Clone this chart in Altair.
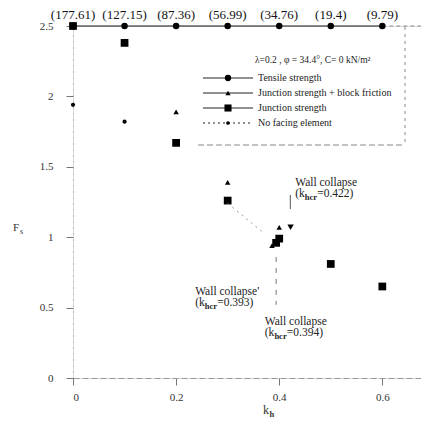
import altair as alt
import pandas as pd

# ---------------- data ----------------
kh_tensile = [0.0, 0.1, 0.2, 0.3, 0.4, 0.5, 0.6]
fs_tensile = [2.5, 2.5, 2.5, 2.5, 2.5, 2.5, 2.5]
tensile_values = ["(177.61)", "(127.15)", "(87.36)", "(56.99)", "(34.76)", "(19.4)", "(9.79)"]

kh_junction = [0.0, 0.1, 0.2, 0.3, 0.394, 0.4, 0.5, 0.6]
fs_junction = [2.5, 2.38, 1.67, 1.26, 0.96, 0.99, 0.81, 0.65]

kh_friction = [0.2, 0.3, 0.386, 0.4]
fs_friction = [1.89, 1.39, 0.94, 1.07]
kh_friction_collapse = [0.422]
fs_friction_collapse = [1.07]

kh_nofacing = [0.0, 0.1]
fs_nofacing = [1.94, 1.82]

ann_kh = [0.431, 0.237, 0.372]
ann_fs = [1.385, 0.611, 0.398]
ann_line1 = ["Wall collapse", "Wall collapse'", "Wall collapse"]
ann_value = ["=0.422)", "=0.393)", "=0.394)"]

legend_title = "\u03bb=0.2 , \u03c6 = 34.4\u00b0, C= 0 kN/m\u00b2"
legend_labels = ["Tensile strength", "Junction strength + block friction",
                 "Junction strength", "No facing element"]
legend_shapes = ["circle", "triangle-up", "square", "circle"]

x_ticks = [0, 0.2, 0.4, 0.6]
y_ticks = [0, 0.5, 1, 1.5, 2, 2.5]

# ---------------- layout ----------------
W, H = 348, 352
FONT = "Liberation Serif"
XDOM = [0, 0.675]
YDOM = [0, 2.5]

def X(field="kh"):
    return alt.X(f"{field}:Q", scale=alt.Scale(domain=XDOM, nice=False, zero=False),
                 axis=alt.Axis(values=x_ticks, format="~g", title=None, grid=False,
                               tickSize=7, tickColor="#777", domainColor="#999",
                               domainDash=[6, 3], labelFont=FONT, labelFontSize=11,
                               labelColor="#333", labelPadding=6))

def Y(field="fs"):
    return alt.Y(f"{field}:Q", scale=alt.Scale(domain=YDOM, nice=False, zero=False),
                 axis=alt.Axis(values=y_ticks, format="~g", title=None, grid=False,
                               tickSize=7, tickColor="#777", domainColor="#999",
                               domainDash=[1, 5], labelFont=FONT, labelFontSize=11,
                               labelColor="#333", labelPadding=13))

tensile = pd.DataFrame({"kh": kh_tensile, "fs": fs_tensile, "lab": tensile_values})
junction = pd.DataFrame({"kh": kh_junction, "fs": fs_junction})
friction = pd.DataFrame({"kh": kh_friction, "fs": fs_friction})
fcollapse = pd.DataFrame({"kh": kh_friction_collapse, "fs": fs_friction_collapse})
nofacing = pd.DataFrame({"kh": kh_nofacing, "fs": fs_nofacing})
ann = pd.DataFrame({"kh": ann_kh, "fs": ann_fs, "l1": ann_line1, "v": ann_value})

layers = []

# tensile line across top + dashed continuation
layers.append(alt.Chart(tensile).mark_line(color="#111", strokeWidth=1).encode(x=X(), y=Y()))
layers.append(alt.Chart(pd.DataFrame({"kh": [0.6], "fs": [2.5]})).mark_rule(
    color="#888", strokeDash=[4, 3], strokeWidth=1).encode(x=X(), x2=alt.value(W), y=Y()))
layers.append(alt.Chart(tensile).mark_point(shape="circle", filled=True, size=42, color="#000",
                                            opacity=1).encode(x=X(), y=Y()))
layers.append(alt.Chart(tensile).mark_text(font=FONT, fontSize=13, dy=-11, color="#111").encode(
    x=X(), y=Y(), text="lab:N"))

# junction strength squares
layers.append(alt.Chart(junction).mark_point(shape="square", filled=True, size=60, color="#000",
                                             opacity=1).encode(x=X(), y=Y()))
# junction + friction triangles
layers.append(alt.Chart(friction).mark_point(shape="triangle-up", filled=True, size=30, color="#000",
                                             opacity=1).encode(x=X(), y=Y()))
layers.append(alt.Chart(fcollapse).mark_point(shape="triangle-down", filled=True, size=40, color="#000",
                                              opacity=1).encode(x=X(), y=Y()))
# no facing element dots
layers.append(alt.Chart(nofacing).mark_point(shape="circle", filled=True, size=18, color="#000",
                                             opacity=1).encode(x=X(), y=Y()))

# collapse pointers
layers.append(alt.Chart(pd.DataFrame({"kh": [0.4215], "fs": [1.30], "fs2": [1.20]})).mark_rule(
    color="#555", strokeWidth=1).encode(x=X(), y=Y(), y2="fs2:Q"))
layers.append(alt.Chart(pd.DataFrame({"kh": [0.394], "fs": [0.86], "fs2": [0.52]})).mark_rule(
    color="#777", strokeWidth=1, strokeDash=[5, 6]).encode(x=X(), y=Y(), y2="fs2:Q"))
layers.append(alt.Chart(pd.DataFrame({"kh": [0.30, 0.37], "fs": [1.24, 1.03]})).mark_line(
    color="#999", strokeWidth=1, strokeDash=[2, 4]).encode(x=X(), y=Y()))

# annotations
layers.append(alt.Chart(ann).mark_text(font=FONT, fontSize=11.5, align="left", baseline="middle",
                                       color="#222").encode(x=X(), y=Y(), text="l1:N"))
layers.append(alt.Chart(ann).mark_text(font=FONT, fontSize=11.5, align="left", baseline="middle",
                                       dy=11, color="#222").encode(x=X(), y=Y(), text=alt.value("(k")))
layers.append(alt.Chart(ann).mark_text(font=FONT, fontSize=8.5, fontWeight="bold", align="left",
                                       baseline="middle", dx=9.6, dy=14, color="#222").encode(
    x=X(), y=Y(), text=alt.value("hcr")))
layers.append(alt.Chart(ann).mark_text(font=FONT, fontSize=11.5, align="left", baseline="middle",
                                       dx=22, dy=11, color="#222").encode(x=X(), y=Y(), text="v:N"))

# legend (drawn by hand, pixel layout): only bottom and right edges visible
one = pd.DataFrame({"a": [0]})
layers.append(alt.Chart(one).mark_rule(color="#888", strokeWidth=1, strokeDash=[6, 3]).encode(
    x=alt.value(125), x2=alt.value(332), y=alt.value(119)))
layers.append(alt.Chart(one).mark_rule(color="#888", strokeWidth=1, strokeDash=[3, 4]).encode(
    x=alt.value(332), y=alt.value(1), y2=alt.value(119)))
layers.append(alt.Chart(one).mark_text(font=FONT, fontSize=9.5, align="left", baseline="middle",
                                       color="#222").encode(
    x=alt.value(182), y=alt.value(34), text=alt.value(legend_title)))
leg_y = [52, 67, 82, 97]
leg_dash = [[1, 0], [1, 0], [1, 0], [2, 3]]
leg_size = [40, 28, 50, 14]
for i in range(4):
    layers.append(alt.Chart(one).mark_rule(color="#222", strokeWidth=1, strokeDash=leg_dash[i]).encode(
        x=alt.value(130), x2=alt.value(180), y=alt.value(leg_y[i])))
    layers.append(alt.Chart(one).mark_point(shape=legend_shapes[i], filled=True, size=leg_size[i],
                                            color="#000", opacity=1).encode(
        x=alt.value(155), y=alt.value(leg_y[i])))
    layers.append(alt.Chart(one).mark_text(font=FONT, fontSize=10, align="left", baseline="middle",
                                           color="#222").encode(
        x=alt.value(185), y=alt.value(leg_y[i]), text=alt.value(legend_labels[i])))

# axis titles
layers.append(alt.Chart(one).mark_text(font=FONT, fontSize=11, align="left", baseline="middle",
                                       color="#333").encode(x=alt.value(-60), y=alt.value(202),
                                                            text=alt.value("F")))
layers.append(alt.Chart(one).mark_text(font=FONT, fontSize=8, align="left", baseline="middle",
                                       color="#333").encode(x=alt.value(-53), y=alt.value(206),
                                                            text=alt.value("s")))
layers.append(alt.Chart(one).mark_text(font=FONT, fontSize=12, align="left", baseline="middle",
                                       color="#333").encode(x=alt.value(190), y=alt.value(384),
                                                            text=alt.value("k")))
layers.append(alt.Chart(one).mark_text(font=FONT, fontSize=8.5, fontWeight="bold", align="left",
                                       baseline="middle", color="#333").encode(
    x=alt.value(196.5), y=alt.value(388), text=alt.value("h")))

chart = alt.layer(*layers).properties(
    width=W, height=H, autosize="none",
    padding={"left": 65, "top": 18, "right": 0, "bottom": 42},
).configure_view(stroke=None).configure(font=FONT, background="white")

chart.save("out.html", embed_options={"renderer": "svg", "actions": False})
